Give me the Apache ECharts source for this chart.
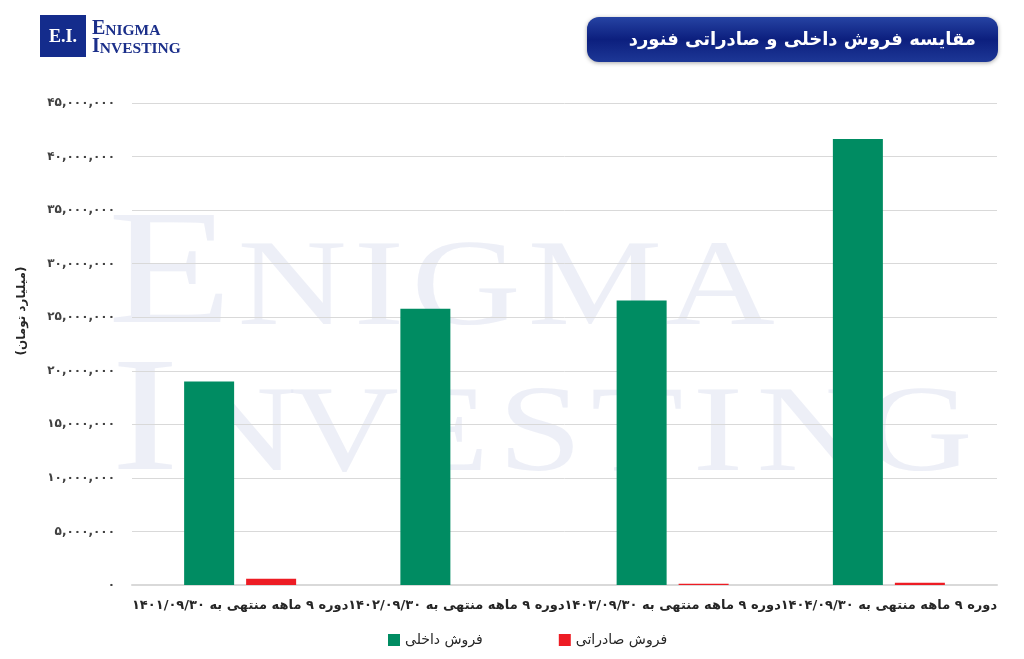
<!DOCTYPE html>
<html>
<head>
<meta charset="utf-8">
<script src="https://cdn.jsdelivr.net/npm/echarts@6/dist/echarts.min.js"></script>
<style>
html,body{margin:0;padding:0;background:#fff;}
#chart{width:1024px;height:659px;}
</style>
</head>
<body>
<div id="chart" dir="rtl"></div>
<script>
// ---- data ----
const categories = [
  'دوره ۹ ماهه منتهی به ۱۴۰۱/۰۹/۳۰',
  'دوره ۹ ماهه منتهی به ۱۴۰۲/۰۹/۳۰',
  'دوره ۹ ماهه منتهی به ۱۴۰۳/۰۹/۳۰',
  'دوره ۹ ماهه منتهی به ۱۴۰۴/۰۹/۳۰'
];
const seriesNames = ['فروش داخلی', 'فروش صادراتی'];
const domesticSales = [19000000, 25800000, 26550000, 41650000];
const exportSales = [580000, 0, 120000, 220000];
const yMin = 0, yMax = 45000000, yStep = 5000000;
const titleText = 'مقایسه فروش داخلی و صادراتی فنورد';
const yAxisTitle = '(میلیارد تومان)';

const FA = '۰۱۲۳۴۵۶۷۸۹';
function toFa(n){
  const s = Math.round(n).toString().replace(/\B(?=(\d{3})+(?!\d))/g, ',');
  return s.replace(/\d/g, d => FA[+d]);
}

const FONT = '"DejaVu Sans", "Noto Sans", sans-serif';
const SERIF = '"Liberation Serif", "DejaVu Serif", serif';
const WM = 'rgba(225,229,241,0.6)';
const LRM = '\u200E';

// watermark letters: [char, big?, centerX, row]
const wmLetters = [
  ['E',1,170,0],['N',0,292,0],['I',0,379,0],['G',0,466,0],['M',0,595,0],['A',0,720,0],
  ['I',1,145,1],['N',0,242,1],['V',0,344,1],['E',0,443,1],['S',0,540,1],['T',0,637,1],['I',0,718,1],['N',0,811,1],['G',0,918,1]
];
const rowCenters = [[279,291.5],[426,438]];
const wmGraphics = wmLetters.map(l => ({
  type:'text', silent:true, z:-100, zlevel:0,
  x:l[2], y:rowCenters[l[3]][l[1]?0:1], scaleX:1.24,
  style:{text:l[0], x:0, y:0, textAlign:'center', textVerticalAlign:'middle',
    font:(l[1]?'164px ':'122px ') + SERIF, fill:WM}
}));

const chart = echarts.init(document.getElementById('chart'), null, {renderer:'canvas'});
chart.setOption({
  backgroundColor:'#ffffff',
  animation:false,
  grid:{left:132, right:27, top:103, bottom:74, containLabel:false},
  legend:{
    data:seriesNames, top:628, left:383, itemWidth:12, itemHeight:12, itemGap:76,
    icon:'rect',
    textStyle:{fontFamily:FONT, fontSize:14, color:'#262626'}
  },
  xAxis:{
    type:'category', data:categories,
    axisTick:{show:false},
    axisLine:{lineStyle:{color:'#d9d9d9', width:2}},
    axisLabel:{interval:0, margin:14, fontFamily:FONT, fontSize:13, fontWeight:'bold', color:'#262626'}
  },
  yAxis:{
    type:'value', min:yMin, max:yMax, interval:yStep,
    axisLine:{show:false}, axisTick:{show:false},
    splitLine:{lineStyle:{color:'#d9d9d9', width:1}},
    axisLabel:{margin:17, formatter:v=>toFa(v), fontFamily:FONT, fontSize:12, fontWeight:'bold', color:'#404040'}
  },
  series:[
    {name:seriesNames[0], type:'bar', data:domesticSales, barWidth:50, barGap:'24%',
      itemStyle:{color:'#008c62'}},
    {name:seriesNames[1], type:'bar', data:exportSales, barWidth:50, barGap:'24%',
      itemStyle:{color:'#ed1c24'}}
  ],
  graphic:[
    ...wmGraphics,
    // logo
    {type:'rect', shape:{x:40, y:15, width:46, height:42}, style:{fill:'#142c8c'}, z:10},
    {type:'text', x:63, y:37, z:11, style:{text:LRM+'E.I.'+LRM, textAlign:'center', textVerticalAlign:'middle',
      font:'bold 18px '+SERIF, fill:'#ffffff'}},
    {type:'text', x:92, y:29, z:11, style:{text:'{a|E}{b|NIGMA}', textVerticalAlign:'middle',
      rich:{a:{fontFamily:SERIF, fontWeight:'bold', fontSize:20, fill:'#1b2f8a', color:'#1b2f8a', verticalAlign:'bottom'},
            b:{fontFamily:SERIF, fontWeight:'bold', fontSize:15.5, fill:'#1b2f8a', color:'#1b2f8a', verticalAlign:'bottom'}}}},
    {type:'text', x:92, y:47, z:11, style:{text:'{a|I}{b|NVESTING}', textVerticalAlign:'middle',
      rich:{a:{fontFamily:SERIF, fontWeight:'bold', fontSize:20, fill:'#1b2f8a', color:'#1b2f8a', verticalAlign:'bottom'},
            b:{fontFamily:SERIF, fontWeight:'bold', fontSize:15.5, fill:'#1b2f8a', color:'#1b2f8a', verticalAlign:'bottom'}}}},
    // title box
    {type:'rect', shape:{x:587, y:17, width:411, height:45, r:12}, z:10,
      style:{fill:new echarts.graphic.LinearGradient(0,0,0,1,[
        {offset:0,color:'#2643a3'},{offset:0.5,color:'#0c1f7e'},{offset:1,color:'#1d3796'}]),
        shadowBlur:4, shadowColor:'rgba(0,0,0,0.35)', shadowOffsetY:1}},
    {type:'text', x:976, y:40, z:11, style:{text:titleText, textAlign:'right', textVerticalAlign:'middle',
      font:'bold 18px '+FONT, fill:'#ffffff'}},
    // y axis title
    {type:'text', x:22, y:311, rotation:Math.PI/2, z:11, style:{text:yAxisTitle, textAlign:'center', textVerticalAlign:'middle',
      font:'bold 12px '+FONT, fill:'#262626'}}
  ]
});
</script>
</body>
</html>
